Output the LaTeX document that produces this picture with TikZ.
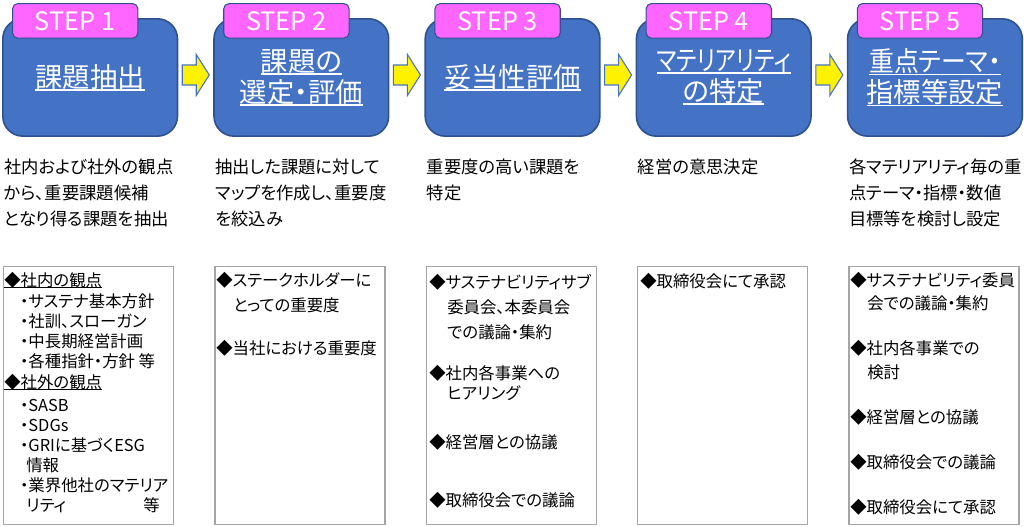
\documentclass[tikz,border=0pt]{standalone}
\usepackage{fontspec}
\setmainfont{Noto Sans CJK JP}[RawFeature=+palt]
\usepackage{graphicx}
\usetikzlibrary{positioning,calc}

\definecolor{stepblue}{HTML}{4472C4}
\definecolor{stepline}{HTML}{2F528F}
\definecolor{steppink}{HTML}{FF66FF}
\definecolor{boxline}{HTML}{A5A5A5}
\newsavebox{\ulsave}
\newcommand{\ultext}[3]{\sbox{\ulsave}{#3}\rlap{\rule[-#1]{\wd\ulsave}{#2}}\usebox{\ulsave}}
\newcommand{\titleul}[1]{\ultext{2.6pt}{1.2pt}{#1}}
\newcommand{\headul}[1]{\ultext{1.4pt}{0.7pt}{#1}}

\begin{document}
\begin{tikzpicture}[x=0.75pt, y=-0.75pt,
    stepbox/.style={draw=stepline, line width=1.2pt, fill=stepblue, rounded corners=15pt,
        minimum width=131pt, minimum height=88pt, anchor=north west, inner sep=0pt},
    steptab/.style={draw=stepline, line width=0.8pt, fill=steppink, rounded corners=4pt,
        minimum width=94pt, minimum height=26pt, anchor=north west, inner sep=0pt,
        text=white, font=\fontsize{19}{22}\selectfont},
    steptitle/.style={text=white, align=center, inner sep=0pt, font=\fontsize{20.5}{23.25}\selectfont},
    flowarrow/.style={draw=stepblue, line width=0.8pt, fill=yellow, line join=miter},
    desc/.style={anchor=north west, align=left, inner sep=0pt, font=\fontsize{13}{19.5}\selectfont},
    listbox/.style={draw=boxline, line width=1pt, fill=white, minimum width=127.5pt,
        minimum height=193.5pt, anchor=north west, inner sep=0pt},
    listline/.style={anchor=west, inner sep=0pt, text height=11pt, text depth=1.5pt,
        font=\fontsize{12.3}{15}\selectfont}]
    \useasboundingbox (0,0) rectangle (1024,526);

    % Step boxes with pink tabs and titles
    \foreach \i/\ttl in {1/{\titleul{課題抽出}},
                         2/{\titleul{課題の}\\\titleul{選定・評価}},
                         3/{\titleul{妥当性評価}},
                         4/{\titleul{\scalebox{0.82}[1]{マテリアリティ}}\\\titleul{の特定}},
                         5/{\titleul{\scalebox{0.91}[1]{重点テーマ・}}\\\titleul{指標等設定}}} {
        \node[stepbox] (s\i) at ({2+211.2*(\i-1)}, 18) {};
        \node[steptab] (t\i) at ($(s\i.north west)+(10,-15)$) {STEP \i};
        \node[steptitle] (ttl\i) at (s\i.center) {\ttl};
    }

    % Yellow arrows between the steps
    \foreach \i in {1,...,4} {
        \pgfmathtruncatemacro{\j}{\i+1}
        \coordinate (m\i) at ($(s\i.east)!0.5!(s\j.west)+(0,-2.5)$);
        \draw[flowarrow, shift={(m\i)}] (-13.5,-10) -- (0.5,-10) -- (0.5,-20.5) -- (13.5,0)
            -- (0.5,20.5) -- (0.5,10) -- (-13.5,10) -- cycle;
    }

    % Descriptions under the steps
    \foreach \i/\txt in {1/{社内および社外の観点\\から、重要課題候補\\となり得る課題を抽出},
                         2/{抽出した課題に対して\\マップを作成し、重要度\\を絞込み},
                         3/{重要度の高い課題を\\特定},
                         4/{経営の意思決定},
                         5/{各マテリアリティ毎の重\\点テーマ・指標・数値\\目標等を検討し設定}} {
        \node[desc] (d\i) at ($(s\i.south west)+(2,22)$) {\txt};
    }

    % Lower boxes
    \foreach \i in {1,...,5}
        \node[listbox] (b\i) at ({3+211.3*(\i-1)}, 266) {};

    % Box contents
    \foreach \x/\y/\t [count=\n] in {
        4/280/{\headul{◆社内の観点}}, 20/301/・サステナ基本方針, 20/321/・社訓、スローガン,
        20/341/・中長期経営計画, 20/361/・各種指針・方針 等, 4/382/{\headul{◆社外の観点}},
        20/405/・SASB, 20/425/・SDGs, 20/445/・GRIに基づくESG, 26/465/情報,
        20/485/・業界他社のマテリア, 26/505/リティ, 143/505/等,
        216/280/◆ステークホルダーに, 233/305/とっての重要度, 216/348/◆当社における重要度,
        429/282/◆サステナビリティサブ, 447/307/委員会、本委員会, 447/332/での議論・集約,
        429/373/◆社内各事業への, 447/393/ヒアリング, 429/442/◆経営層との協議,
        429/500/◆取締役会での議論,
        640/281/◆取締役会にて承認,
        850/280/◆サステナビリティ委員, 867/303/会での議論・集約, 850/348/◆社内各事業での,
        867/372/検討, 850/417/◆経営層との協議, 850/462/◆取締役会での議論,
        850/507/◆取締役会にて承認} {
        \node[listline] (l\n) at (\x,\y) {\t};
    }
\end{tikzpicture}
\end{document}
